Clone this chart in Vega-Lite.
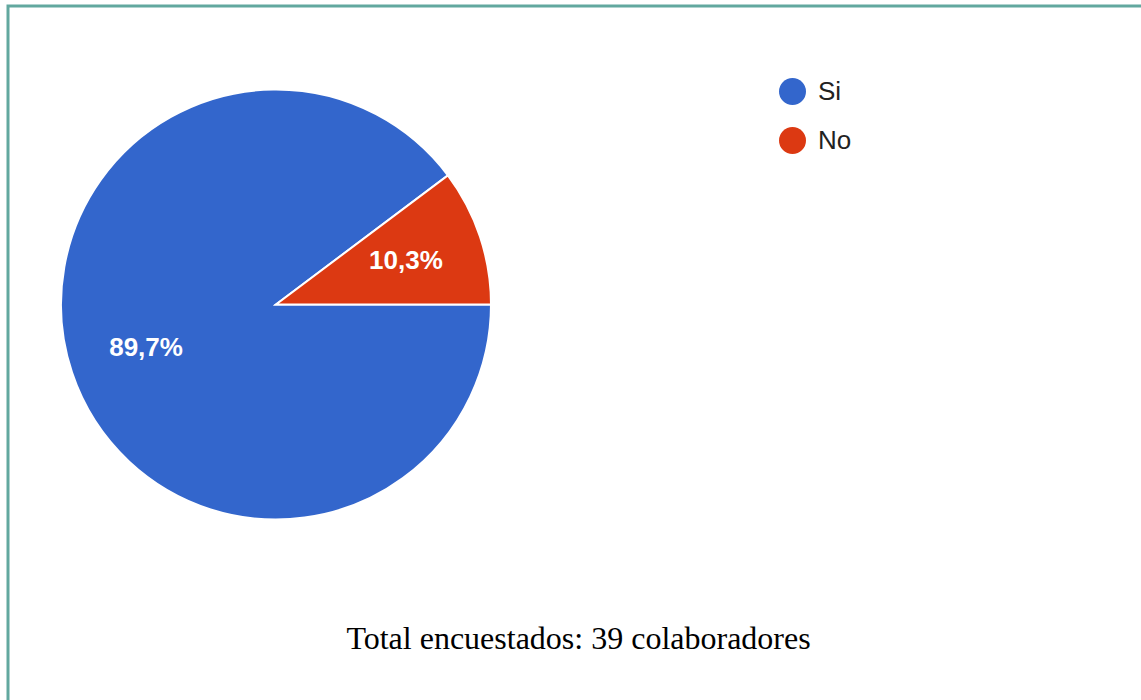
{
  "$schema": "https://vega.github.io/schema/vega-lite/v6.json",
  "width": 1141,
  "height": 700,
  "autosize": {"type": "none"},
  "padding": {"left": 8, "top": 6, "right": 0, "bottom": 0},
  "background": "white",
  "view": {"stroke": "#62a89f", "strokeWidth": 3, "fill": "white"},
  "title": {
    "text": "Total encuestados: 39 colaboradores",
    "orient": "top",
    "anchor": "middle",
    "frame": "group",
    "font": "Liberation Serif",
    "fontSize": 32,
    "fontWeight": "normal",
    "color": "#000000",
    "baseline": "alphabetic",
    "offset": 0,
    "dy": 675
  },
  "data": {
    "values": [
      {"answer": "Si", "count": 35, "label": "89,7%"},
      {"answer": "No", "count": 4, "label": "10,3%"}
    ]
  },
  "encoding": {
    "theta": {"field": "count", "type": "quantitative", "stack": true,
      "scale": {"range": [0.9264, 7.2096]}},
    "order": {"field": "answer", "sort": "ascending"},
    "color": {
      "field": "answer", "type": "nominal",
      "scale": {"domain": ["Si", "No"], "range": ["#3366cc", "#dc3912"]},
      "legend": {
        "title": null,
        "orient": "none",
        "legendX": 771,
        "legendY": 72,
        "symbolType": "circle",
        "symbolSize": 729,
        "symbolStrokeWidth": 0,
        "labelFont": "Liberation Sans",
        "labelFontSize": 26,
        "labelColor": "#222222",
        "labelOffset": 12,
        "rowPadding": 22,
        "padding": 0
      }
    }
  },
  "layer": [
    {
      "mark": {"type": "arc", "x": 268, "y": 298.5, "outerRadius": 215, "stroke": "#ffffff", "strokeWidth": 2}
    },
    {
      "mark": {"type": "text", "x": 268, "y": 298.5, "radius": 137, "font": "Liberation Sans", "fontSize": 26, "fontWeight": "bold", "fill": "#ffffff", "align": "center", "baseline": "middle"},
      "encoding": {
        "text": {"field": "label"},
        "color": {"value": "#ffffff"}
      }
    }
  ],
  "config": {
    "view": {"stroke": "#62a89f", "strokeWidth": 3}
  }
}
